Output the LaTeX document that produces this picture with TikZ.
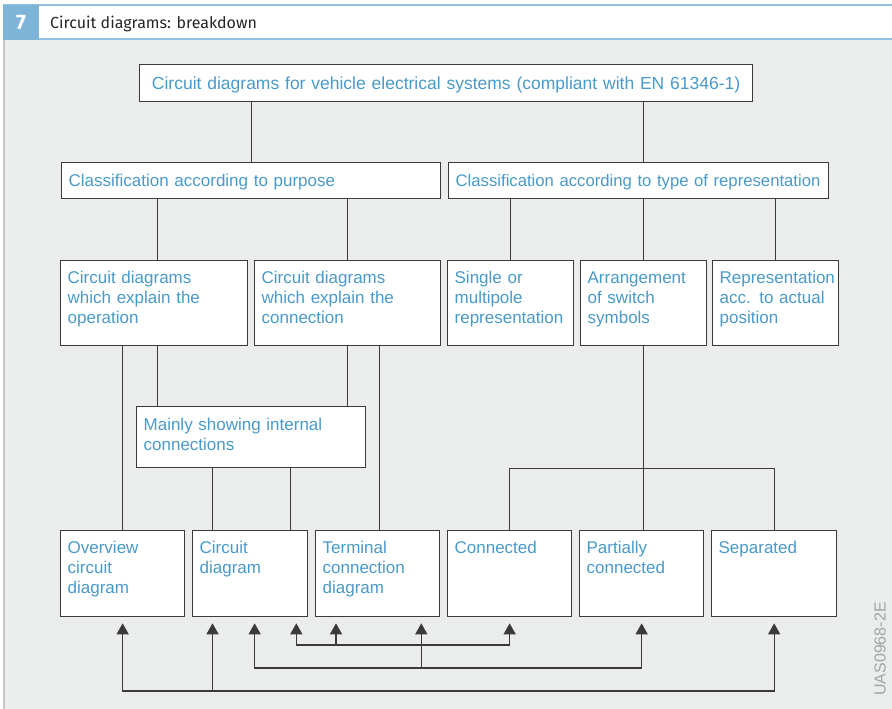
\documentclass[tikz,border=0pt]{standalone}
\usepackage{fontspec}
\setmainfont{Liberation Sans}
\newfontfamily\headfont{Fira Sans}
\usetikzlibrary{arrows.meta,positioning,calc}
\definecolor{cdBlue}{HTML}{4A9AC9}
\definecolor{cdLine}{HTML}{3A3A3A}
\definecolor{cdBack}{HTML}{EBECEC}
\definecolor{cdHead}{HTML}{7DB4D7}
\definecolor{cdRule}{HTML}{90C1DF}
\definecolor{cdEdge}{HTML}{C6C8C8}
\definecolor{cdCode}{HTML}{A3A5A5}

\begin{document}
\hyphenpenalty=10000
\begin{tikzpicture}[
    x=1pt, y=-1pt,
    box/.style={draw=cdLine, fill=white, line width=1.3pt, text=cdBlue, align=left, anchor=north west, inner xsep=7pt, inner ysep=0pt, font=\fontsize{17}{20}\selectfont, text height=23pt},
    tall/.style={text depth=62pt},
    low/.style={text depth=63pt},
    wire/.style={draw=cdLine, line width=1.3pt, line cap=rect},
    tip/.style={wire, -{Triangle[width=12pt,length=11pt]}, shorten >=6pt}
]
\useasboundingbox (0,0) rectangle (892,709);

% ===== HEADER =====
\fill[cdBack] (3,40.5) rectangle (892,709);
\fill[cdEdge] (3,40.5) rectangle (5,709);
\fill[cdRule] (3,4) rectangle (892,6.5);
\fill[cdRule] (3,38) rectangle (892,40.5);
\fill[cdHead] (3,5) rectangle (39,40);
\node[text=white, font=\headfont\bfseries\fontsize{21}{21}\selectfont] (num) at (21,22.5) {7};
\node[anchor=base west, inner sep=0pt, text=black!85, font=\headfont\fontsize{16}{16}\selectfont] (title) at (50,28.5) {Circuit diagrams: breakdown};

% ===== TOP LEVELS =====
\node[box, align=center, text width=599pt, text height=25pt, text depth=12pt, font=\fontsize{17.5}{20}\selectfont] (top) at (139,64) {Circuit diagrams for vehicle electrical systems (compliant with EN 61346-1)};
\node[box, text width=365pt, text height=24pt, text depth=12pt] (purp) at (61,162) {Classification according to purpose};
\node[box, text width=366pt, text height=24pt, text depth=12pt, font=\fontsize{16.7}{20}\selectfont] (repr) at (448,162) {\mbox{Classification according to type of representation}};

% ===== MIDDLE LEVEL =====
\node[box, tall, text width=173pt] (oper) at (60,260) {Circuit diagrams\\which explain the\\operation};
\node[box, tall, text width=172pt] (cnct) at (254,260) {Circuit diagrams\\which explain the\\connection};
\node[box, tall, text width=112pt] (pole) at (447,260) {Single or\\multipole\\representation};
\node[box, tall, text width=112pt] (swit) at (580,260) {Arrangement\\of switch\\symbols};
\node[box, tall, text width=112pt] (posn) at (712,260) {Representation\\acc. to actual\\position};
\node[box, text width=215pt, text height=23.5pt, text depth=37.5pt] (intl) at (136,406) {Mainly showing internal\\connections};

% ===== BOTTOM LEVEL =====
\node[box, low, text width=110pt] (over) at (60,530) {Overview\\circuit\\diagram};
\node[box, low, text width=101pt] (circ) at (192,530) {Circuit\\diagram};
\node[box, low, text width=110pt] (term) at (315,530) {Terminal\\connection\\diagram};
\node[box, low, text width=110pt] (cond) at (447,530) {Connected};
\node[box, low, text width=110pt] (part) at (579,530) {Partially\\connected};
\node[box, low, text width=111pt] (sepd) at (711,530) {Separated};

\node[rotate=90, text=cdCode, font=\fontsize{16}{16}\selectfont] (code) at (880,649) {UAS0968-2E};

% ===== TREE LINES =====
\coordinate (opx) at ([xshift=3.5pt]oper.north);
\coordinate (tmx) at ([xshift=2pt]term.north);
\coordinate (c1) at ([xshift=20.5pt]circ.north west);
\coordinate (c2) at ([xshift=-18pt]circ.north east);
\coordinate (split) at (0,468.5);

\draw[wire] (top.south -| purp.north) -- (purp.north);
\draw[wire] (top.south -| swit.north) -- (repr.north -| swit.north);
\draw[wire] (purp.south -| opx) -- (opx);
\draw[wire] (purp.south -| cnct.north) -- (cnct.north);
\draw[wire] (repr.south -| pole.north) -- (pole.north);
\draw[wire] (repr.south -| swit.north) -- (swit.north);
\draw[wire] (repr.south -| posn.north) -- (posn.north);

\draw[wire] (oper.south -| over.north) -- (over.north);
\draw[wire] (oper.south -| opx) -- (intl.north -| opx);
\draw[wire] (cnct.south) -- (intl.north -| cnct.south);
\draw[wire] (cnct.south -| tmx) -- (tmx);
\draw[wire] (intl.south -| c1) -- (c1);
\draw[wire] (intl.south -| c2) -- (c2);

\draw[wire] (swit.south) -- (part.north -| swit.south);
\draw[wire] (cond.north) |- (split -| sepd.north) -- (sepd.north);

% ===== ARROW BUSES =====
\coordinate (busA) at (0,645);
\coordinate (busB) at (0,668);
\coordinate (busC) at (0,691);
\coordinate (g1) at ([xshift=-12pt]circ.south east);
\coordinate (g2) at ([xshift=4.5pt]circ.south);
\coordinate (g3) at ([xshift=20.5pt]circ.south west);
\coordinate (h1) at ([xshift=21pt]term.south west);
\coordinate (h2) at ([xshift=-19pt]term.south east);

% bus A
\draw[tip] (busA -| cond.south) -| (g1);
\draw[tip] (busA -| cond.south) -- (cond.south);
\draw[tip] (busA -| h1) -- (h1);

% bus B
\draw[tip] (busB -| part.south) -| (g2);
\draw[tip] (busB -| part.south) -- (part.south);
\draw[tip] (busB -| h2) -- (h2);

% bus C
\draw[tip] (busC -| sepd.south) -| (over.south);
\draw[tip] (busC -| sepd.south) -- (sepd.south);
\draw[tip] (busC -| g3) -- (g3);

\end{tikzpicture}
\end{document}
